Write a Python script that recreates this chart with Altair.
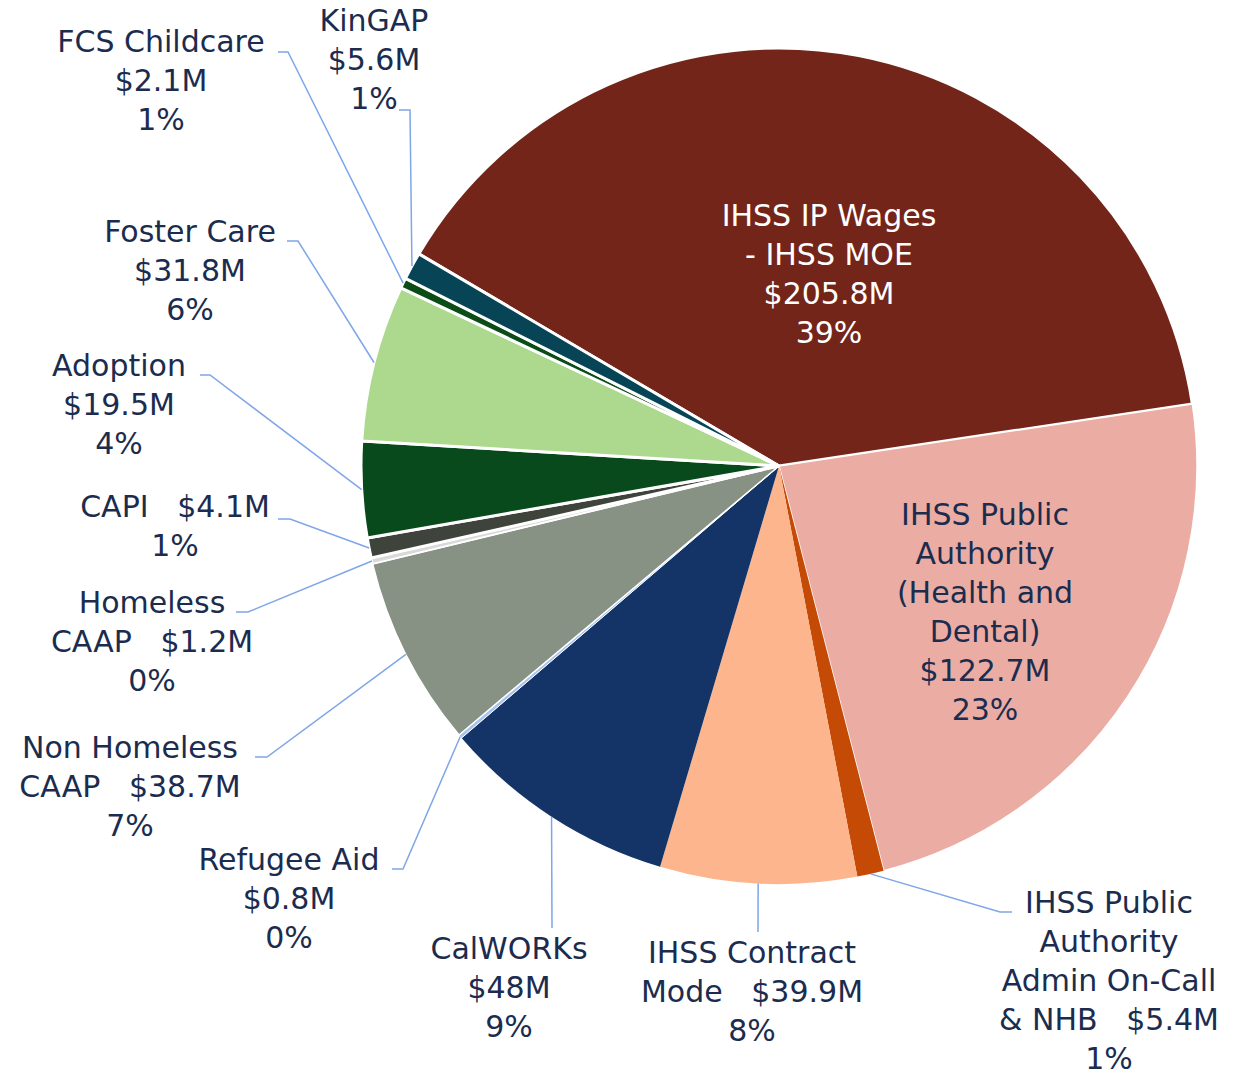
import math
import altair as alt
import pandas as pd

# ---------------- data ----------------
CATEGORIES = [
    "IHSS IP Wages - IHSS MOE",
    "IHSS Public Authority (Health and Dental)",
    "IHSS Public Authority Admin On-Call & NHB",
    "IHSS Contract Mode",
    "CalWORKs",
    "Refugee Aid",
    "Non Homeless CAAP",
    "Homeless CAAP",
    "CAPI",
    "Adoption",
    "Foster Care",
    "FCS Childcare",
    "KinGAP",
]
VALUES = [205.8, 122.7, 5.4, 39.9, 48, 0.8, 38.7, 1.2, 4.1, 19.5, 31.8, 2.1, 5.6]
PCT_LABELS = [39, 23, 1, 8, 9, 0, 7, 0, 1, 4, 6, 1, 1]
LABEL_NAMES = [
    "IHSS IP Wages\n- IHSS MOE",
    "IHSS Public\nAuthority\n(Health and\nDental)",
    "IHSS Public\nAuthority\nAdmin On-Call\n& NHB",
    "IHSS Contract\nMode",
    "CalWORKs",
    "Refugee Aid",
    "Non Homeless\nCAAP",
    "Homeless\nCAAP",
    "CAPI",
    "Adoption",
    "Foster Care",
    "FCS Childcare",
    "KinGAP",
]

# ---------------- styles ----------------
COLORS = ["#73251A", "#EBADA3", "#C54A05", "#FDB58D", "#143468", "#A8C4EE",
          "#879184", "#D9D9D9", "#3E443B", "#084A1B", "#ADD98E", "#0B4D16", "#064456"]
STROKE_W = [3, 1.5, 0, 0, 0, 1, 1.5, 2, 3, 3, 3, 3, 3]
TEXT_COLOR = "#1B2C4F"
LEADER_COLOR = "#7EA6E8"
FONT = "DejaVu Sans"
FS = 30
LH = 39
SP = "\u00a0\u00a0\u00a0"

# ---------------- layout (page pixel coords) ----------------
M = 8
CX, CY, R = 779, 466, 418
START_DEG = -59.5
# template, text centre x, first-line centre y, text colour, leader points near text
LAYOUT = [
    ("{n}\n{v}\n{p}", 829, 215, "white", None),
    ("{n}\n{v}\n{p}", 985, 514, TEXT_COLOR, None),
    ("{n}" + SP + "{v}\n{p}", 1109, 902, TEXT_COLOR, [(1000, 912), (1012, 912)]),
    ("{n}" + SP + "{v}\n{p}", 752, 952, TEXT_COLOR, [(758, 932)]),
    ("{n}\n{v}\n{p}", 509, 948, TEXT_COLOR, [(552, 928)]),
    ("{n}\n{v}\n{p}", 289, 859, TEXT_COLOR, [(403, 869), (392, 869)]),
    ("{n}" + SP + "{v}\n{p}", 130, 747, TEXT_COLOR, [(267, 757), (255, 757)]),
    ("{n}" + SP + "{v}\n{p}", 152, 602, TEXT_COLOR, [(248, 612), (236, 612)]),
    ("{n}" + SP + "{v}\n{p}", 175, 506, TEXT_COLOR, [(290, 519), (278, 519)]),
    ("{n}\n{v}\n{p}", 119, 365, TEXT_COLOR, [(210, 375), (200, 375)]),
    ("{n}\n{v}\n{p}", 190, 231, TEXT_COLOR, [(298, 241), (287, 241)]),
    ("{n}\n{v}\n{p}", 161, 41, TEXT_COLOR, [(288, 52), (278, 52)]),
    ("{n}\n{v}\n{p}", 374, 20, TEXT_COLOR, [(410, 110), (399, 110)]),
]

TOTAL = sum(VALUES)
start = math.radians(START_DEG)

pie_df = pd.DataFrame({
    "category": CATEGORIES,
    "value": VALUES,
    "idx": list(range(len(CATEGORIES))),
    "sw": STROKE_W,
})

pie = alt.Chart(pie_df).mark_arc(outerRadius=R, stroke="white").encode(
    theta=alt.Theta("value:Q", stack=True,
                    scale=alt.Scale(domain=[0, TOTAL], range=[start, start + 2 * math.pi])),
    order=alt.Order("idx:Q"),
    color=alt.Color("category:N", scale=alt.Scale(domain=CATEGORIES, range=COLORS), legend=None),
    strokeWidth=alt.StrokeWidth("sw:Q", scale=None),
    x=alt.value(CX - M),
    y=alt.value(CY - M),
)

# labels & leaders
text_rows, line_rows = [], []
cum = 0.0
for i, (cat, v) in enumerate(zip(CATEGORIES, VALUES)):
    mid = start + 2 * math.pi * (cum + v / 2) / TOTAL
    cum += v
    tmpl, tx, ty, tcol, lead = LAYOUT[i]
    label = tmpl.format(n=LABEL_NAMES[i], v=f"${v:g}M", p=f"{PCT_LABELS[i]}%")
    text_rows.append({"x": tx - M, "y": ty - M - 0.425 * FS, "label": label, "tc": tcol})
    if lead:
        px = CX + R * math.sin(mid)
        py = CY - R * math.cos(mid)
        pts = [(px, py)] + lead
        for s, (lx, ly) in enumerate(pts):
            line_rows.append({"id": cat, "seq": s, "x": lx - M, "y": ly - M})

text_df = pd.DataFrame(text_rows)
line_df = pd.DataFrame(line_rows)

leaders = alt.Chart(line_df).mark_line(color=LEADER_COLOR, strokeWidth=1.5).encode(
    x=alt.X("x:Q", scale=None, axis=None),
    y=alt.Y("y:Q", scale=None, axis=None),
    detail="id:N",
    order="seq:Q",
)

labels = alt.Chart(text_df).mark_text(
    font=FONT, fontSize=FS, lineHeight=LH, lineBreak="\n", align="center", baseline="top"
).encode(
    x=alt.X("x:Q", scale=None, axis=None),
    y=alt.Y("y:Q", scale=None, axis=None),
    text="label:N",
    color=alt.Color("tc:N", scale=None),
)

chart = alt.layer(pie, leaders, labels).properties(
    width=1228, height=1062, padding=0,
    autosize=alt.AutoSizeParams(type="none"),
).configure_view(stroke=None)

chart.save("out.html", embed_options={"renderer": "svg", "actions": False})
